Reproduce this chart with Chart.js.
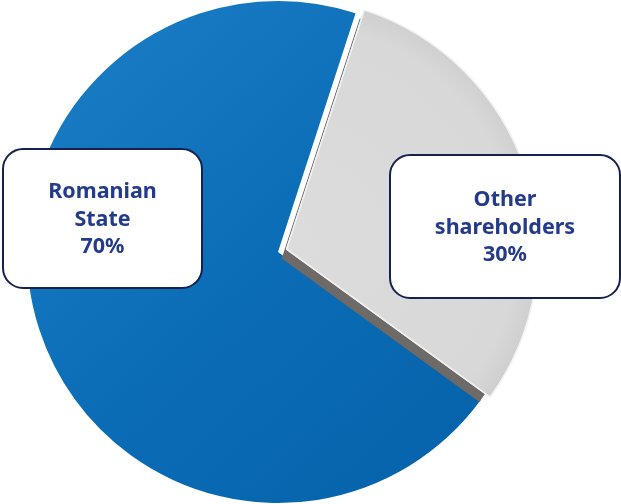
<!DOCTYPE html>
<html>
<head>
<meta charset="utf-8">
<script src="https://cdn.jsdelivr.net/npm/chart.js@4.4.1/dist/chart.umd.min.js"></script>
<style>
  html, body { margin: 0; padding: 0; background: #fff; }
  #wrap { position: relative; width: 621px; height: 504px; }
</style>
</head>
<body>
<div id="wrap"><canvas id="pieChart"></canvas></div>
<script>
// data
const labels = ['Romanian State', 'Other shareholders'];
const labelLines = [['Romanian', 'State'], ['Other', 'shareholders']];
const shares = [70, 30];

// label boxes (x, y, w, h) - drawn by plugin
const boxes = [
  { x: 3, y: 149, w: 199, h: 139 },
  { x: 390, y: 155, w: 230, h: 143 }
];

function sliceFill(ctx) {
  const c = ctx.chart.ctx;
  const a = ctx.chart.chartArea;
  if (!a) return ctx.dataIndex === 0 ? '#0b6db6' : '#d6d6d6';
  const cx = (a.left + a.right) / 2, cy = (a.top + a.bottom) / 2;
  if (ctx.dataIndex === 0) {
    const g = c.createLinearGradient(cx - 220, cy - 230, cx + 200, cy + 230);
    g.addColorStop(0, '#1a7dc5');
    g.addColorStop(0.5, '#0b6db6');
    g.addColorStop(1, '#0562aa');
    return g;
  }
  const g = c.createRadialGradient(cx + 8, cy - 3, 0, cx + 8, cy - 3, 251);
  g.addColorStop(0, '#dcdcdc');
  g.addColorStop(0.88, '#d8d8d8');
  g.addColorStop(0.97, '#d0d0d0');
  g.addColorStop(1, '#c2c2c2');
  return g;
}

// 3d edge under the grey slice
const edgePlugin = {
  id: 'edge',
  afterDatasetsDraw(chart) {
    const arc = chart.getDatasetMeta(0).data[1];
    const ctx = chart.ctx;
    const a = chart.chartArea;
    const cx = (a.left + a.right) / 2, cy = (a.top + a.bottom) / 2;
    ctx.save();
    ctx.beginPath();
    ctx.arc(cx, cy, 251, 0, Math.PI * 2);
    ctx.clip();
    ctx.shadowColor = '#6d6a67';
    ctx.shadowOffsetX = -4;
    ctx.shadowOffsetY = 9;
    ctx.shadowBlur = 0;
    arc.draw(ctx);
    ctx.restore();
    arc.draw(ctx);
  }
};

const boxPlugin = {
  id: 'boxes',
  afterDraw(chart) {
    const ctx = chart.ctx;
    ctx.save();
    boxes.forEach((b, i) => {
      ctx.beginPath();
      ctx.roundRect(b.x, b.y, b.w, b.h, 20);
      ctx.fillStyle = '#ffffff';
      ctx.fill();
      ctx.lineWidth = 2;
      ctx.strokeStyle = '#15224d';
      ctx.stroke();

      const lines = labelLines[i].concat([shares[i] + '%']);
      ctx.fillStyle = '#233b8a';
      ctx.font = 'bold 21.5px "Noto Sans", sans-serif';
      ctx.textAlign = 'center';
      ctx.textBaseline = 'middle';
      const cx = b.x + b.w / 2;
      const cy = b.y + b.h / 2 + 1;
      lines.forEach((t, k) => {
        ctx.fillText(t, cx, cy + (k - 1) * 27.5);
      });
    });
    ctx.restore();
  }
};

new Chart(document.getElementById('pieChart'), {
  type: 'pie',
  data: {
    labels: labels,
    datasets: [{
      data: shares,
      backgroundColor: sliceFill,
      borderColor: (ctx) => ctx.dataIndex === 0 ? '#0b6db6' : '#f2f2f2',
      borderWidth: (ctx) => ctx.dataIndex === 0 ? 0 : 1.5,
      offset: (ctx) => ctx.dataIndex === 0 ? 0 : 36
    }]
  },
  options: {
    responsive: true,
    maintainAspectRatio: false,
    animation: false,
    radius: 251,
    rotation: 126,
    layout: { padding: { left: 0, right: 65, top: 0, bottom: 0 } },
    plugins: {
      legend: { display: false },
      tooltip: { enabled: false }
    }
  },
  plugins: [edgePlugin, boxPlugin]
});
</script>
</body>
</html>
